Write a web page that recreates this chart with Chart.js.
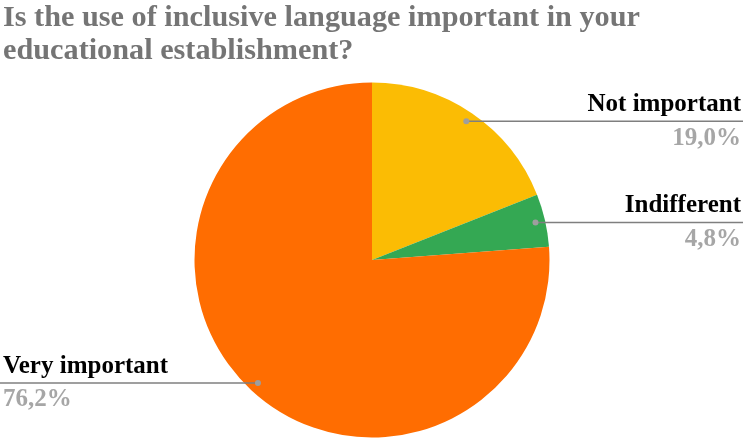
<!DOCTYPE html>
<html>
<head>
<meta charset="utf-8">
<script src="https://cdn.jsdelivr.net/npm/chart.js@4.4.1/dist/chart.umd.min.js"></script>
<style>
  html, body { margin: 0; padding: 0; background: #fff; }
  #wrap { width: 743px; height: 441px; }
</style>
</head>
<body>
<div id="wrap"><canvas id="myChart" width="743" height="441"></canvas></div>
<script>
const titleLines = ['Is the use of inclusive language important in your', 'educational establishment?']
const categories = ['Not important', 'Indifferent', 'Very important']
const shares = [19.0, 4.8, 76.2]
const sliceColors = ['#fbbc04', '#34a853', '#ff6d01']

const fmt = v => v.toFixed(1).replace('.', ',') + '%'

// title, left aligned, narrowed a bit to fit the line widths
const titlePlugin = {
  id: 'titleText',
  afterDraw(chart) {
    const c = chart.ctx
    c.save()
    c.fillStyle = '#757575'
    c.font = 'bold 29px "Liberation Serif"'
    c.textBaseline = 'alphabetic'
    const w = c.measureText(titleLines[0]).width
    const sx = 637 / w
    c.translate(3, 0)
    c.scale(sx, 1)
    c.fillText(titleLines[0], 0, 26)
    c.fillText(titleLines[1], 0, 59)
    c.restore()
  }
}

// leader lines with name and percentage
const labelPlugin = {
  id: 'sliceLabels',
  afterDatasetsDraw(chart) {
    const c = chart.ctx
    const meta = chart.getDatasetMeta(0)
    const W = chart.width
    meta.data.forEach((arc, i) => {
      const p = arc.getProps(['x', 'y', 'startAngle', 'endAngle', 'outerRadius'], true)
      const mid = (p.startAngle + p.endAngle) / 2
      const r = p.outerRadius * 0.945
      const dx = p.x + Math.cos(mid) * r
      const dy = p.y + Math.sin(mid) * r
      const right = Math.cos(mid) >= 0
      c.save()
      c.strokeStyle = '#7f7f7f'
      c.lineWidth = 1.5
      c.beginPath()
      c.moveTo(dx, dy)
      c.lineTo(right ? W : 0, dy)
      c.stroke()
      c.fillStyle = '#9e9e9e'
      c.beginPath()
      c.arc(dx, dy, 3, 0, Math.PI * 2)
      c.fill()
      c.textAlign = right ? 'right' : 'left'
      const tx = right ? W - 2 : 3
      c.font = 'bold 25px "Liberation Serif"'
      c.fillStyle = '#000'
      c.fillText(categories[i], tx, dy - 10)
      c.fillStyle = '#a6a6a6'
      c.fillText(fmt(shares[i]), tx, dy + 23.5)
      c.restore()
    })
  }
}

const ctx = document.getElementById('myChart')

new Chart(ctx, {
  type: 'pie',
  data: {
    labels: categories,
    datasets: [{
      data: shares,
      backgroundColor: sliceColors,
      borderWidth: 0
    }]
  },
  options: {
    responsive: false,
    animation: false,
    layout: { padding: { top: 82.5, bottom: 3.5, left: 1, right: 0 } },
    plugins: {
      legend: { display: false },
      tooltip: { enabled: false }
    }
  },
  plugins: [titlePlugin, labelPlugin]
})
</script>
</body>
</html>
